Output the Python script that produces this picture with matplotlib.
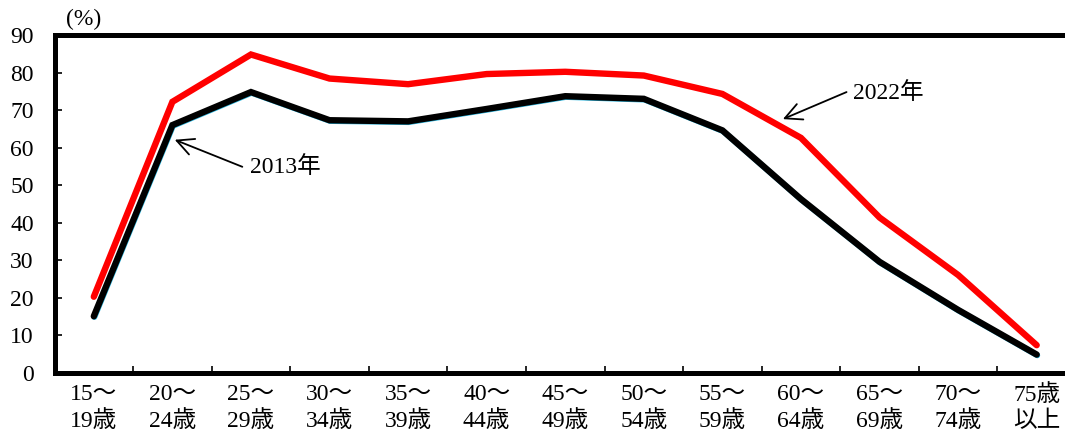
import matplotlib
matplotlib.use("Agg")
import matplotlib.pyplot as plt
from matplotlib.transforms import offset_copy

plt.rcParams['font.family'] = ['Liberation Serif', 'Noto Sans CJK JP', 'DejaVu Sans']

# Age groups and participation rates (%)
age_groups = ["15～\n19歳", "20～\n24歳", "25～\n29歳", "30～\n34歳", "35～\n39歳",
              "40～\n44歳", "45～\n49歳", "50～\n54歳", "55～\n59歳", "60～\n64歳",
              "65～\n69歳", "70～\n74歳", "75歳\n以上"]
rate_2022 = [20.3, 72.2, 84.8, 78.4, 76.9, 79.6, 80.2, 79.2, 74.3, 62.6, 41.4, 26.1, 7.4]
rate_2013 = [15.1, 66.0, 74.8, 67.3, 67.0, 70.3, 73.7, 73.0, 64.6, 46.3, 29.6, 16.8, 4.9]
y_ticks = [0, 10, 20, 30, 40, 50, 60, 70, 80, 90]

FS = 17

fig = plt.figure(figsize=(10.65, 4.34), dpi=100)
ax = fig.add_axes([0.0512, 0.1406, 0.9591, 0.7788])

x = list(range(len(age_groups)))

# thin cyan edge beneath the 2013 line
shifted = offset_copy(ax.transData, fig=fig, x=0.6, y=-0.8, units='dots')
ax.plot(x, rate_2013, color='#2ab7e0', linewidth=4.2, solid_capstyle='round',
        solid_joinstyle='miter', transform=shifted, zorder=2)
ax.plot(x, rate_2013, color='black', linewidth=4.6, solid_capstyle='round',
        solid_joinstyle='miter', zorder=3)
ax.plot(x, rate_2022, color='#ff0000', linewidth=4.6, solid_capstyle='round',
        solid_joinstyle='miter', zorder=4)

ax.set_xlim(-0.5, len(age_groups) - 0.5)
ax.set_ylim(0, 90)

ax.set_yticks(y_ticks)
ax.set_yticklabels([str(v) for v in y_ticks])
ax.tick_params(axis='y', direction='in', length=5, width=1.2, pad=15, labelsize=FS)

ax.set_xticks(x)
ax.set_xticklabels(age_groups, linespacing=1.3)
ax.tick_params(axis='x', which='major', length=0, pad=8, labelsize=FS)
ax.set_xticks([i + 0.5 for i in x[:-1]], minor=True)
ax.tick_params(axis='x', which='minor', direction='in', length=5, width=1.2)

for side in ['left', 'top', 'bottom']:
    ax.spines[side].set_linewidth(3.6)
ax.spines['right'].set_visible(False)

ax.text(0.028, 1.015, "(%)", transform=ax.transAxes, fontsize=FS,
        ha='center', va='bottom')

arrow_style = dict(arrowstyle='->', color='black', lw=1.3,
                   mutation_scale=30, shrinkA=0, shrinkB=0)

ax.annotate("", xy=(1.03, 62.1), xytext=(1.89, 54.9), arrowprops=arrow_style)
ax.text(1.99, 54.8, "2013年", fontsize=FS, ha='left', va='center')

ax.annotate("", xy=(8.77, 67.6), xytext=(9.58, 74.8), arrowprops=arrow_style)
ax.text(9.66, 74.6, "2022年", fontsize=FS, ha='left', va='center')

fig.savefig("out.png", dpi=100)
